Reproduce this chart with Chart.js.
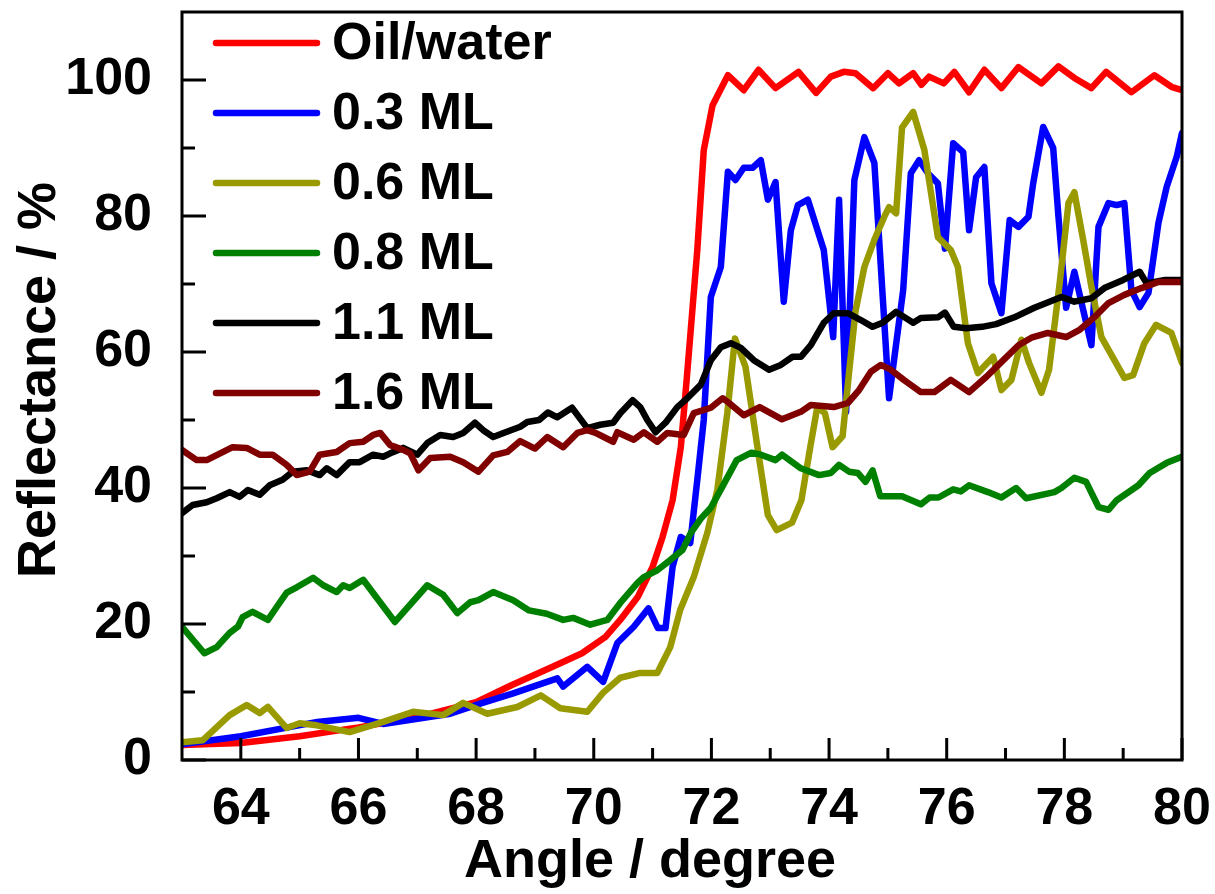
<!DOCTYPE html>
<html>
<head>
<meta charset="utf-8">
<script src="https://cdn.jsdelivr.net/npm/chart.js@4.4.0/dist/chart.umd.min.js"></script>
<style>
  html, body { margin: 0; padding: 0; background: #fff; }
  #wrap { width: 1215px; height: 894px; }
</style>
</head>
<body>
<div id="wrap"><canvas id="chart" width="1215" height="894"></canvas></div>
<script>
// tick labels
const X_TICKS = [64, 66, 68, 70, 72, 74, 76, 78, 80];
const Y_TICKS = [0, 20, 40, 60, 80, 100];

// series names + colours (legend order)
const NAMES = ["Oil/water", "0.3 ML", "0.6 ML", "0.8 ML", "1.1 ML", "1.6 ML"];
const COLORS = ["#ff0000", "#0000ff", "#999900", "#008000", "#000000", "#800000"];

// Oil/water
const oilAngle = [63, 64, 65, 66, 67, 68, 68.6, 69.3, 69.8, 70.2, 70.45, 70.75, 71, 71.17, 71.34, 71.48, 71.58, 71.76, 71.87, 72.02, 72.28, 72.55, 72.8, 73.09, 73.48, 73.78, 74.03, 74.25, 74.45, 74.75, 75.0, 75.19, 75.43, 75.57, 75.7, 75.95, 76.13, 76.38, 76.64, 76.93, 77.22, 77.61, 77.9, 78.17, 78.46, 78.71, 79.14, 79.53, 79.82, 80];
const oilR = [2.2, 2.5, 3.5, 4.8, 6.3, 8.5, 11, 13.7, 15.7, 18.1, 20.6, 24, 28.4, 32.8, 38.2, 46, 56, 75, 89.7, 96.3, 100.7, 98.5, 101.5, 98.8, 101.2, 98.1, 100.5, 101.2, 101, 98.8, 101, 99.5, 101, 99.3, 100.5, 99.5, 101.2, 98.2, 101.5, 98.8, 101.9, 99.5, 102, 100.3, 98.8, 101.2, 98.2, 100.7, 99, 98.5];

// 0.3 ML
const ml03Angle = [63, 64, 65.3, 66, 66.42, 67.56, 68.07, 68.63, 69.38, 69.48, 69.89, 70.16, 70.4, 70.68, 70.93, 71.09, 71.22, 71.34, 71.48, 71.64, 71.76, 71.87, 71.99, 72.16, 72.28, 72.41, 72.55, 72.7, 72.84, 72.96, 73.09, 73.23, 73.35, 73.47, 73.64, 73.91, 74.07, 74.17, 74.29, 74.43, 74.6, 74.77, 75.02, 75.26, 75.39, 75.53, 75.68, 75.85, 75.97, 76.11, 76.28, 76.38, 76.5, 76.64, 76.76, 76.93, 77.07, 77.22, 77.39, 77.47, 77.64, 77.81, 77.9, 78.03, 78.17, 78.46, 78.58, 78.75, 78.89, 79.02, 79.14, 79.28, 79.43, 79.6, 79.74, 79.91, 80];
const ml03R = [2.3, 3.5, 5.6, 6.2, 5.3, 6.8, 8.3, 9.8, 12, 10.8, 13.7, 11.5, 17.2, 19.6, 22.3, 19.4, 19.4, 28.4, 32.8, 31.9, 41.2, 50, 68.1, 72.5, 86.5, 85.3, 87.1, 87.1, 88.2, 82.4, 85, 67.4, 77.9, 81.6, 82.4, 75, 62.2, 82.4, 51.2, 85.3, 91.6, 87.8, 53.2, 69.1, 86.3, 88.2, 86.3, 84.8, 75.2, 90.7, 89.4, 77.9, 85.7, 87.2, 70.1, 65.7, 79.4, 78.4, 79.9, 84.8, 93.1, 90, 79.9, 66.5, 71.8, 61, 78.4, 81.9, 81.6, 81.9, 69.1, 66.6, 68.7, 79, 84.3, 88.7, 92.2];

// 0.6 ML
const ml06Angle = [63, 63.35, 63.81, 64.1, 64.32, 64.46, 64.78, 65.0, 65.29, 65.85, 66.42, 66.93, 67.44, 67.78, 68.19, 68.7, 69.1, 69.43, 69.89, 70.16, 70.45, 70.79, 71.08, 71.3, 71.47, 71.7, 71.93, 72.1, 72.27, 72.4, 72.58, 72.8, 72.96, 73.11, 73.37, 73.53, 73.68, 73.8, 73.93, 74.06, 74.23, 74.34, 74.45, 74.6, 74.77, 74.94, 75.02, 75.14, 75.24, 75.43, 75.62, 75.85, 76.07, 76.19, 76.36, 76.53, 76.79, 76.93, 77.1, 77.27, 77.4, 77.61, 77.74, 77.92, 78.07, 78.17, 78.32, 78.46, 78.63, 79.02, 79.17, 79.36, 79.56, 79.82, 80];
const ml06R = [2.6, 2.9, 6.6, 8.1, 6.9, 7.8, 4.7, 5.4, 5.1, 4.1, 5.6, 7.1, 6.6, 8.4, 6.8, 7.8, 9.5, 7.6, 7.1, 9.9, 12.1, 12.8, 12.8, 16.6, 22.1, 26.9, 33.4, 39.7, 51, 62, 57.8, 45, 36, 33.8, 34.9, 38.2, 46, 51.9, 51, 46, 47.6, 57, 66, 72.5, 76.5, 79.9, 81.3, 80.4, 93, 95.3, 89.7, 76.9, 75, 72.5, 61.3, 56.9, 59.3, 54.4, 55.9, 61.8, 58.4, 54, 57.4, 70.1, 81.9, 83.5, 76.5, 69.6, 62.2, 56.2, 56.6, 61.3, 64, 62.8, 58.4];

// 0.8 ML
const ml08Angle = [63, 63.38, 63.59, 63.81, 63.95, 64.03, 64.2, 64.46, 64.61, 64.78, 64.95, 65.23, 65.4, 65.63, 65.74, 65.85, 66.08, 66.62, 67.17, 67.44, 67.68, 67.9, 68.04, 68.29, 68.63, 68.9, 69.2, 69.48, 69.65, 69.94, 70.23, 70.45, 70.74, 70.85, 71.08, 71.3, 71.51, 71.65, 71.82, 71.99, 72.18, 72.43, 72.68, 72.84, 73.09, 73.2, 73.52, 73.83, 74.03, 74.17, 74.34, 74.49, 74.62, 74.74, 74.87, 75.24, 75.56, 75.71, 75.86, 76.11, 76.24, 76.38, 76.7, 76.93, 77.18, 77.35, 77.83, 77.95, 78.17, 78.37, 78.58, 78.75, 78.89, 79.26, 79.45, 79.74, 80];
const ml08R = [19.6, 15.7, 16.6, 18.7, 19.6, 21, 21.8, 20.6, 22.5, 24.6, 25.4, 26.8, 25.7, 24.7, 25.7, 25.3, 26.5, 20.3, 25.7, 24.3, 21.6, 23.2, 23.5, 24.7, 23.5, 22, 21.5, 20.6, 20.9, 19.9, 20.6, 23.1, 26, 26.9, 27.9, 29.4, 30.9, 33.4, 35.5, 37.1, 40.1, 44.1, 45.2, 44.9, 44.1, 44.9, 42.9, 41.9, 42.2, 43.4, 42.4, 42.2, 40.9, 42.6, 38.8, 38.8, 37.6, 38.6, 38.6, 39.8, 39.5, 40.4, 39.4, 38.6, 40, 38.5, 39.4, 40, 41.5, 40.9, 37.2, 36.8, 38.2, 40.4, 42.2, 43.7, 44.6];

// 1.1 ML
const ml11Angle = [63, 63.18, 63.42, 63.59, 63.81, 63.98, 64.12, 64.32, 64.49, 64.71, 64.88, 65.12, 65.34, 65.46, 65.63, 65.85, 66.02, 66.25, 66.42, 66.54, 66.76, 67.0, 67.17, 67.39, 67.61, 67.78, 67.98, 68.12, 68.29, 68.5, 68.75, 68.87, 69.07, 69.22, 69.38, 69.63, 69.89, 70.11, 70.33, 70.45, 70.66, 70.79, 70.91, 71.05, 71.22, 71.42, 71.59, 71.82, 71.99, 72.16, 72.33, 72.5, 72.72, 72.98, 73.18, 73.38, 73.52, 73.69, 73.91, 74.08, 74.32, 74.54, 74.74, 74.91, 75.14, 75.43, 75.56, 75.85, 75.97, 76.12, 76.33, 76.6, 76.84, 77.15, 77.49, 77.95, 78.17, 78.46, 78.68, 79.0, 79.28, 79.4, 79.71, 80];
const ml11R = [36.3, 37.5, 37.9, 38.5, 39.4, 38.7, 39.7, 39, 40.4, 41.2, 42.4, 42.6, 41.9, 42.9, 41.9, 43.8, 43.8, 44.9, 44.6, 45.1, 45.9, 44.9, 46.6, 47.8, 47.5, 48.1, 49.6, 48.5, 47.5, 48.2, 49, 49.7, 50, 51.1, 50.4, 51.8, 48.8, 49.3, 49.6, 51, 52.9, 51.9, 50, 48.2, 49.6, 51.9, 53.2, 55.2, 58.8, 60.7, 61.3, 60.6, 58.8, 57.4, 58.1, 59.3, 59.3, 61, 64.3, 65.7, 65.7, 64.7, 63.7, 64.3, 65.9, 64.3, 65, 65.1, 65.8, 63.7, 63.5, 63.7, 64.1, 65.1, 66.5, 68.1, 67.4, 67.9, 69.4, 70.6, 71.8, 70.1, 70.6, 70.6];

// 1.6 ML
const ml16Angle = [63, 63.25, 63.42, 63.86, 64.1, 64.32, 64.54, 64.78, 64.95, 65.17, 65.34, 65.63, 65.85, 66.08, 66.25, 66.37, 66.54, 66.76, 66.88, 67.02, 67.22, 67.56, 67.78, 68.04, 68.29, 68.53, 68.75, 69.0, 69.21, 69.48, 69.72, 69.89, 70.03, 70.33, 70.4, 70.68, 70.85, 71.08, 71.25, 71.53, 71.7, 71.99, 72.19, 72.3, 72.55, 72.82, 73.2, 73.52, 73.69, 74.08, 74.32, 74.51, 74.71, 74.88, 75.05, 75.27, 75.56, 75.79, 76.07, 76.38, 76.68, 76.95, 77.22, 77.44, 77.72, 78.03, 78.25, 78.51, 78.75, 79.02, 79.31, 79.6, 80];
const ml16R = [45.6, 44.1, 44.1, 46, 45.9, 44.9, 44.9, 43.4, 41.9, 42.4, 44.9, 45.3, 46.6, 46.8, 47.8, 48.1, 46.3, 45.6, 45.1, 42.6, 44.4, 44.6, 43.8, 42.4, 44.8, 45.3, 46.9, 45.8, 47.5, 46, 48.1, 48.5, 48.1, 46.8, 48.2, 47.1, 48.2, 46.8, 48.1, 47.8, 51, 51.8, 53.2, 52.5, 50.7, 51.9, 50.1, 51.2, 52.2, 51.9, 52.5, 54.4, 57.1, 58.1, 57.4, 55.9, 54.1, 54.1, 55.9, 54.1, 56.4, 58.7, 61, 62.1, 62.8, 62.2, 63.2, 65.1, 67.2, 68.4, 69.4, 70.3, 70.3];

const ANGLES = [oilAngle, ml03Angle, ml06Angle, ml08Angle, ml11Angle, ml16Angle];
const VALUES = [oilR, ml03R, ml06R, ml08R, ml11R, ml16R];

const FONT = "'Liberation Sans', Arial, sans-serif";

const datasets = NAMES.map((name, i) => ({
  label: name,
  data: ANGLES[i].map((a, j) => ({ x: a, y: VALUES[i][j] })),
  borderColor: COLORS[i],
  backgroundColor: COLORS[i],
  borderWidth: 6.5,
  pointRadius: 0,
  tension: 0,
  fill: false,
  borderJoinStyle: "round",
  borderCapStyle: "round",
  order: NAMES.length - i,   // later series on top
}));

function midpoints(arr) {
  const out = [];
  for (let i = 0; i < arr.length - 1; i++) out.push((arr[i] + arr[i + 1]) / 2);
  return out;
}

const boxPlugin = {
  id: "box",
  afterDatasetsDraw(chart) {
    const { ctx, chartArea: a, scales: { x, y } } = chart;
    ctx.save();
    ctx.strokeStyle = "#000";
    ctx.lineWidth = 3;
    ctx.strokeRect(a.left, a.top, a.right - a.left, a.bottom - a.top);

    // inward ticks, bottom + left only
    ctx.beginPath();
    X_TICKS.forEach(v => { const p = x.getPixelForValue(v); ctx.moveTo(p, a.bottom); ctx.lineTo(p, a.bottom - 22); });
    midpoints(X_TICKS).forEach(v => { const p = x.getPixelForValue(v); ctx.moveTo(p, a.bottom); ctx.lineTo(p, a.bottom - 12); });
    Y_TICKS.forEach(v => { const p = y.getPixelForValue(v); ctx.moveTo(a.left, p); ctx.lineTo(a.left + 24, p); });
    midpoints(Y_TICKS).forEach(v => { const p = y.getPixelForValue(v); ctx.moveTo(a.left, p); ctx.lineTo(a.left + 13, p); });
    ctx.stroke();
    ctx.restore();
  },
  afterDraw(chart) {
    const { ctx } = chart;
    ctx.save();
    // legend
    ctx.font = "bold 52px " + FONT;
    ctx.textBaseline = "middle";
    ctx.textAlign = "left";
    ctx.lineCap = "round";
    chart.data.datasets.forEach((ds, i) => {
      const yy = 43 + i * 70;
      ctx.strokeStyle = ds.borderColor;
      ctx.lineWidth = 6.5;
      ctx.beginPath();
      ctx.moveTo(216, yy);
      ctx.lineTo(317, yy);
      ctx.stroke();
      ctx.fillStyle = "#000";
      ctx.fillText(ds.label, 332, yy + 2);
    });

    // axis titles
    ctx.font = "bold 54px " + FONT;
    ctx.textAlign = "center";
    ctx.fillText("Angle / degree", 650, 862);
    ctx.translate(40, 380);
    ctx.rotate(-Math.PI / 2);
    ctx.fillText("Reflectance / %", 0, 0);
    ctx.restore();
  }
};

new Chart(document.getElementById("chart"), {
  type: "line",
  data: { datasets },
  options: {
    responsive: false,
    animation: false,
    devicePixelRatio: 1,
    layout: { padding: { top: 12, right: 33, left: 0, bottom: 0 } },
    plugins: { legend: { display: false }, tooltip: { enabled: false } },
    scales: {
      x: {
        type: "linear",
        min: 63,
        max: 80,
        afterBuildTicks: s => { s.ticks = X_TICKS.map(v => ({ value: v })); },
        afterFit: s => { s.height = 134; s.paddingLeft = 0; s.paddingRight = 0; },
        grid: { display: false },
        border: { display: false },
        ticks: { color: "#000", font: { family: FONT, size: 52, weight: "bold" }, padding: 10, maxRotation: 0, autoSkip: false },
      },
      y: {
        type: "linear",
        min: 0,
        max: 110,
        afterBuildTicks: s => { s.ticks = Y_TICKS.map(v => ({ value: v })); },
        afterFit: s => { s.width = 182; s.paddingTop = 0; s.paddingBottom = 0; },
        grid: { display: false },
        border: { display: false },
        ticks: { color: "#000", font: { family: FONT, size: 52, weight: "bold" }, padding: 22 },
      },
    },
  },
  plugins: [boxPlugin],
});
</script>
</body>
</html>
